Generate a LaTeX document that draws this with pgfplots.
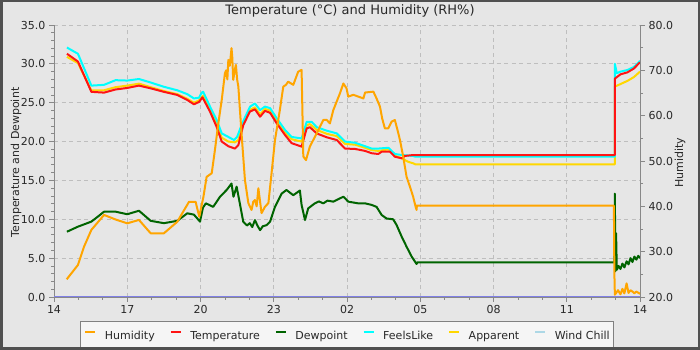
\documentclass[border=0pt]{standalone}
\usepackage{fontspec}
\setmainfont{DejaVu Sans}
\usepackage{pgfplots}
\pgfplotsset{compat=1.18}
\definecolor{bgc}{RGB}{230,230,230}
\definecolor{bordc}{RGB}{80,80,80}
\definecolor{txt}{RGB}{40,40,40}
\definecolor{axc}{RGB}{136,136,136}
\definecolor{gridc}{RGB}{190,190,190}
\definecolor{legfill}{RGB}{245,245,245}
\definecolor{legdraw}{RGB}{128,128,128}
\definecolor{humc}{RGB}{255,165,0}
\definecolor{tempc}{RGB}{255,20,20}
\definecolor{dewc}{RGB}{0,100,0}
\definecolor{feelc}{RGB}{0,255,255}
\definecolor{appc}{RGB}{255,215,0}
\definecolor{wcc}{RGB}{173,216,230}
\definecolor{wcline}{RGB}{128,128,230}
\pgfplotsset{
  common/.style={
    at={(54pt,53pt)}, anchor=south west,
    scale only axis, width=586pt, height=272pt,
    xmin=0, xmax=24, enlargelimits=false,
    tick align=outside,
    major tick length=5pt, minor tick length=3pt,
    tick style={axc, line width=0.8pt},
    axis line style={axc, line width=0.8pt},
    tick label style={font=\fontsize{11}{13}\selectfont, text=txt},
    every axis plot/.append style={line width=2pt, line join=round},
    clip=true,
  }
}
\begin{document}
\begin{tikzpicture}
\useasboundingbox (0,0) rectangle (700pt,350pt);
\fill[bgc] (0,0) rectangle (700pt,350pt);
\begin{axis}[common,
  axis y line*=left, axis x line*=bottom,
  ymin=0, ymax=35,
  xtick={0,3,...,24}, xticklabels={14,17,20,23,02,05,08,11,14},
  minor x tick num=2,
  ytick={0,5,...,35}, yticklabels={0.0,5.0,10.0,15.0,20.0,25.0,30.0,35.0},
  minor y tick num=4,
  grid=major, major grid style={gridc, dash pattern=on 4pt off 3.5pt, line width=0.8pt},
]
% Wind Chill
\addplot[wcline, line width=2pt] coordinates {(0,0) (24,0)};
% Apparent
\addplot[appc] coordinates {
(0.53,30.9) (0.98,30.1) (1.53,26.6) (2.05,26.6) (2.52,27.0) (3.0,27.2) (3.48,27.45) (3.96,27.0) (4.5,26.5) (5.05,26.1) (5.46,25.5) (5.73,25.0) (5.94,25.3) (6.1,25.9) (6.39,24.1) (6.66,22.3) (6.87,20.5) (7.14,20.0) (7.41,19.9) (7.55,20.2) (7.75,22.4) (8.03,24.1) (8.23,24.4) (8.44,23.5) (8.64,24.2) (8.85,24.0) (9.12,22.7) (9.46,21.2) (9.73,20.3) (10.14,20.0) (10.35,22.1) (10.48,22.25) (10.76,21.5) (11.17,21.0) (11.58,20.7) (11.92,19.7) (12.33,19.6) (12.74,19.2) (13.01,18.9) (13.28,18.8) (13.7,19.0) (13.96,18.2) (14.24,17.85) (14.5,17.4) (14.71,17.2) (14.8,17.07) (22.97,17.07) (22.97,27.07) (23.2,27.4) (23.48,27.8) (23.75,28.3) (24.0,29.0)
};
% FeelsLike
\addplot[feelc] coordinates {
(0.53,32.1) (0.98,31.3) (1.53,27.2) (2.05,27.3) (2.52,27.9) (3.0,27.85) (3.48,28.05) (3.96,27.6) (4.5,27.05) (5.05,26.6) (5.46,26.1) (5.73,25.55) (5.94,25.65) (6.05,26.3) (6.11,26.4) (6.39,24.5) (6.66,22.8) (6.87,21.05) (7.14,20.6) (7.37,20.2) (7.5,20.6) (7.71,22.35) (8.03,24.5) (8.23,24.9) (8.44,24.05) (8.64,24.5) (8.85,24.3) (9.12,23.0) (9.46,21.5) (9.73,20.6) (10.14,20.4) (10.35,22.55) (10.55,22.55) (10.76,21.85) (11.17,21.4) (11.58,21.05) (11.92,20.0) (12.33,19.85) (12.74,19.4) (13.01,19.1) (13.28,19.1) (13.7,19.2) (13.96,18.4) (14.24,18.27) (14.71,18.15) (14.8,18.05) (22.97,18.05) (22.97,30.0) (23.05,28.8) (23.2,29.0) (23.48,29.2) (23.75,29.6) (23.95,30.2) (24.0,30.4)
};
% Dewpoint
\addplot[dewc] coordinates {
(0.53,8.4) (0.98,9.05) (1.53,9.7) (1.8,10.35) (2.05,10.98) (2.52,10.98) (3.0,10.65) (3.48,11.1) (3.96,9.8) (4.5,9.5) (5.05,9.8) (5.46,10.77) (5.73,10.6) (5.98,9.7) (6.1,11.5) (6.22,12.05) (6.52,11.6) (6.8,12.9) (7.07,13.77) (7.27,14.6) (7.35,12.9) (7.41,13.5) (7.48,14.2) (7.61,12.05) (7.75,9.7) (7.9,9.2) (8.02,9.5) (8.12,9.0) (8.23,9.9) (8.33,9.2) (8.44,8.6) (8.55,9.1) (8.71,9.25) (8.85,9.7) (9.05,11.6) (9.32,13.3) (9.52,13.77) (9.8,13.1) (10.07,13.7) (10.14,11.85) (10.28,9.9) (10.41,11.4) (10.68,12.05) (10.85,12.3) (11.03,12.05) (11.2,12.4) (11.44,12.27) (11.65,12.6) (11.85,12.9) (11.92,12.7) (12.05,12.27) (12.46,12.05) (12.74,12.05) (13.01,11.85) (13.21,11.6) (13.42,10.55) (13.62,10.1) (13.89,10.0) (14.03,9.27) (14.24,7.76) (14.44,6.47) (14.65,5.19) (14.85,4.25) (14.88,4.46) (22.95,4.46) (22.97,13.3) (22.99,3.3) (23.02,8.2) (23.05,3.5) (23.12,4.0) (23.2,3.6) (23.28,4.3) (23.36,3.8) (23.45,4.6) (23.53,4.2) (23.61,5.0) (23.69,4.5) (23.77,5.2) (23.85,4.8) (23.93,5.3) (24.0,5.0)
};
% Temperature
\addplot[tempc] coordinates {
(0.53,31.3) (0.98,30.3) (1.53,26.4) (2.05,26.3) (2.52,26.7) (3.0,26.9) (3.48,27.2) (3.96,26.85) (4.5,26.4) (5.05,26.0) (5.46,25.35) (5.73,24.8) (5.94,25.1) (6.08,25.7) (6.39,23.85) (6.66,21.9) (6.87,20.0) (7.14,19.4) (7.41,19.1) (7.55,19.55) (7.75,22.1) (8.02,23.85) (8.23,24.15) (8.44,23.2) (8.64,23.95) (8.85,23.7) (9.12,22.35) (9.46,20.85) (9.73,19.8) (10.14,19.35) (10.35,21.7) (10.48,21.85) (10.76,21.05) (11.17,20.55) (11.58,20.2) (11.92,19.1) (12.33,19.05) (12.74,18.8) (13.01,18.5) (13.28,18.4) (13.42,18.7) (13.76,18.7) (13.96,18.05) (14.24,17.85) (14.37,18.15) (14.71,18.27) (22.97,18.27) (22.97,28.1) (23.2,28.65) (23.48,28.9) (23.75,29.4) (23.95,30.05) (24.0,30.2)
};
\end{axis}
\begin{axis}[common,
  axis y line*=right, axis x line=none,
  ymin=20, ymax=80,
  ytick={20,30,...,80}, yticklabels={20.0,30.0,40.0,50.0,60.0,70.0,80.0},
  minor y tick num=1,
  legend columns=6,
  legend style={at={(0.04437,-0.0882)}, anchor=north west,
    fill=legfill, draw=legdraw, line width=0.8pt,
    font=\fontsize{11}{13}\selectfont, text=txt,
    inner xsep=4pt, inner ysep=7pt,
    nodes={inner sep=0pt, text height=11pt, text depth=1pt},
    /tikz/every odd column/.append style={column sep=8.5pt},
    /tikz/every even column/.append style={column sep=15pt}},
  legend image code/.code={\draw[#1, line width=2pt] (0pt,2pt) -- (10pt,2pt);},
]
\addplot[humc] coordinates {
(0.52,23.9) (0.98,27.06) (1.23,31.1) (1.53,34.8) (2.05,38.1) (2.52,37.1) (3.0,36.25) (3.48,37.0) (3.96,34.05) (4.5,34.05) (5.05,36.6) (5.25,38.45) (5.53,41.0) (5.8,41.0) (5.95,37.7) (5.98,38.45) (6.12,42.1) (6.25,46.5) (6.46,47.3) (6.59,52.4) (6.73,58.3) (6.87,63.5) (7.0,69.35) (7.05,70.0) (7.1,68.0) (7.14,72.3) (7.2,71.0) (7.27,74.9) (7.3,73.0) (7.34,67.9) (7.4,70.0) (7.45,71.2) (7.5,68.0) (7.55,66.4) (7.68,56.1) (7.82,45.8) (7.96,40.7) (8.09,39.2) (8.16,41.0) (8.23,41.4) (8.3,40.0) (8.37,44.0) (8.5,38.5) (8.64,39.9) (8.78,40.7) (8.91,47.3) (9.05,54.6) (9.25,61.25) (9.39,66.4) (9.5,66.8) (9.59,67.5) (9.8,66.8) (10.0,69.7) (10.14,70.1) (10.21,51.0) (10.32,50.2) (10.48,53.2) (10.76,56.1) (11.03,59.05) (11.17,59.05) (11.3,58.3) (11.44,61.25) (11.71,64.9) (11.85,67.1) (11.98,66.05) (12.05,64.2) (12.26,64.6) (12.67,63.8) (12.74,65.1) (13.08,65.3) (13.21,63.8) (13.35,62.0) (13.44,59.4) (13.55,57.2) (13.69,57.2) (13.83,58.7) (13.96,59.05) (14.07,56.8) (14.17,54.6) (14.3,51.0) (14.44,46.5) (14.58,44.3) (14.71,42.1) (14.81,39.9) (14.85,39.2) (14.86,40.15) (22.93,40.15) (22.95,25.3) (22.97,20.5) (23.1,21.5) (23.2,20.6) (23.28,21.8) (23.36,20.8) (23.45,23.0) (23.53,20.9) (23.61,21.5) (23.69,21.2) (23.77,20.8) (23.85,21.2) (24.0,20.7)
};
\addlegendentry{Humidity}
\addlegendimage{tempc}\addlegendentry{Temperature}
\addlegendimage{dewc}\addlegendentry{Dewpoint}
\addlegendimage{feelc}\addlegendentry{FeelsLike}
\addlegendimage{appc}\addlegendentry{Apparent}
\addlegendimage{wcc}\addlegendentry{Wind Chill}
\end{axis}
\node[font=\fontsize{13}{15}\selectfont, text=txt] at (350pt,339pt) {Temperature (°C) and Humidity (RH\%)};
\node[font=\fontsize{11}{13}\selectfont, text=txt, rotate=90] at (16pt,187.5pt) {Temperature and Dewpoint};
\node[font=\fontsize{11}{13}\selectfont, text=txt, rotate=90] at (680pt,187.5pt) {Humidity};
\draw[bordc, line width=5pt] (0,0) rectangle (700pt,350pt);
\end{tikzpicture}
\end{document}
